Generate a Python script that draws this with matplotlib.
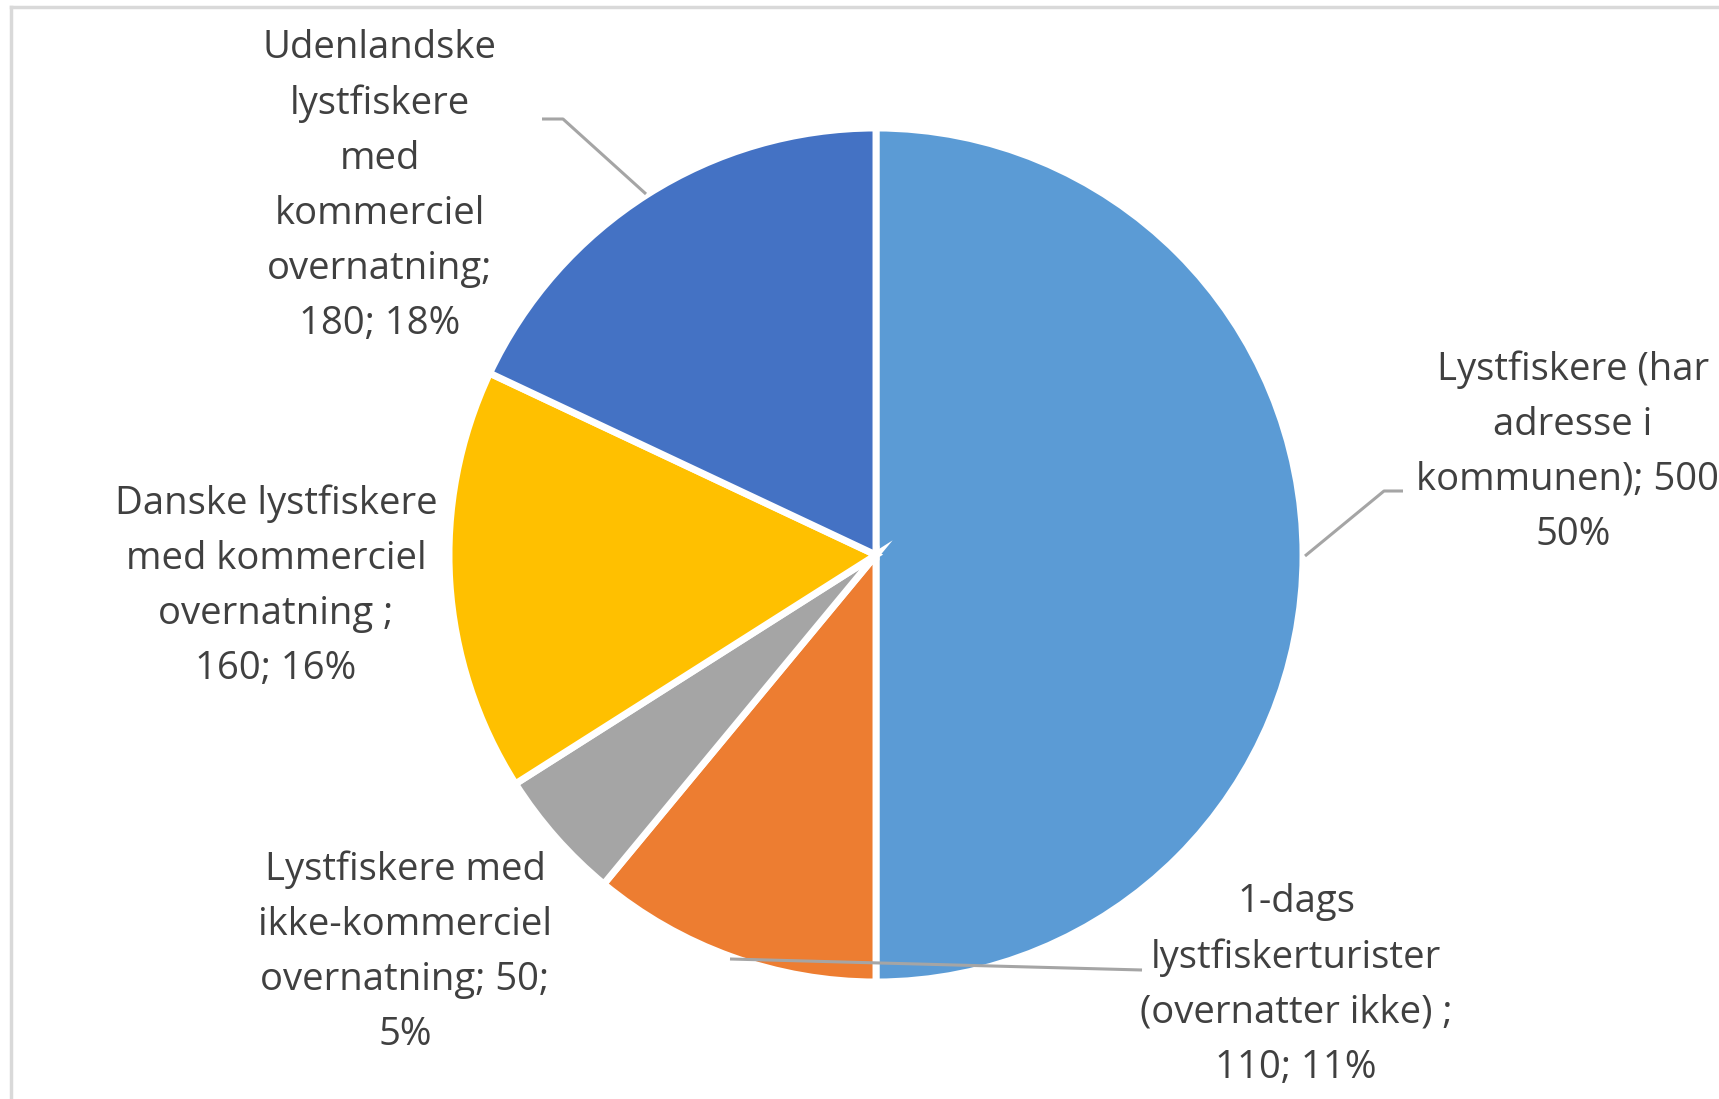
import matplotlib.pyplot as plt
import numpy as np

# data
labels = ['Lystfiskere (har\nadresse i\nkommunen); 500;\n50%',
          '1-dags\nlystfiskerturister\n(overnatter ikke) ;\n110; 11%',
          'Lystfiskere med\nikke-kommerciel\novernatning; 50;\n5%',
          'Danske lystfiskere\nmed kommerciel\novernatning ;\n160; 16%',
          'Udenlandske\nlystfiskere\nmed\nkommerciel\novernatning;\n180; 18%']
values = [500, 110, 50, 160, 180]
colors = ['#5B9BD5', '#ED7D31', '#A5A5A5', '#FFC000', '#4472C4']

W, H = 1719, 1099
fig = plt.figure(figsize=(W / 100, H / 100), dpi=100)
ax = fig.add_axes([0, 0, 1, 1])

cx, cy, r = 876, H - 555, 427
ax.pie(values, colors=colors, startangle=90, counterclock=False,
       center=(cx, cy), radius=r, frame=True,
       wedgeprops=dict(edgecolor='white', linewidth=5))
ax.set_xlim(0, W)
ax.set_ylim(0, H)
ax.set_aspect('auto')
ax.axis('off')

# label positions in pixels (x, y from top)
label_pos = [(1573, 452), (1296, 985), (405, 952), (276, 586), (380, 186)]
for lab, (x, y) in zip(labels, label_pos):
    ax.text(x, H - y, lab, ha='center', va='center', fontsize=27.5,
            family='Open Sans', color='#404040', linespacing=1.58)

# leader lines
lc = '#A5A5A5'
ax.plot([542, 563, 646], [H - 119, H - 119, H - 194], color=lc, lw=2.2, solid_capstyle='butt')
ax.plot([1305, 1384, 1403], [H - 556, H - 491, H - 491], color=lc, lw=2.2, solid_capstyle='butt')
ax.plot([730, 1142], [H - 959, H - 970], color=lc, lw=2.2, solid_capstyle='butt')

# chart border (cropped)
bc = '#D9D9D9'
ax.plot([11, 11], [0, H - 6.5], color=bc, lw=2.5)
ax.plot([11, W], [H - 6.5, H - 6.5], color=bc, lw=2.5)

fig.savefig('out.png', dpi=100)
